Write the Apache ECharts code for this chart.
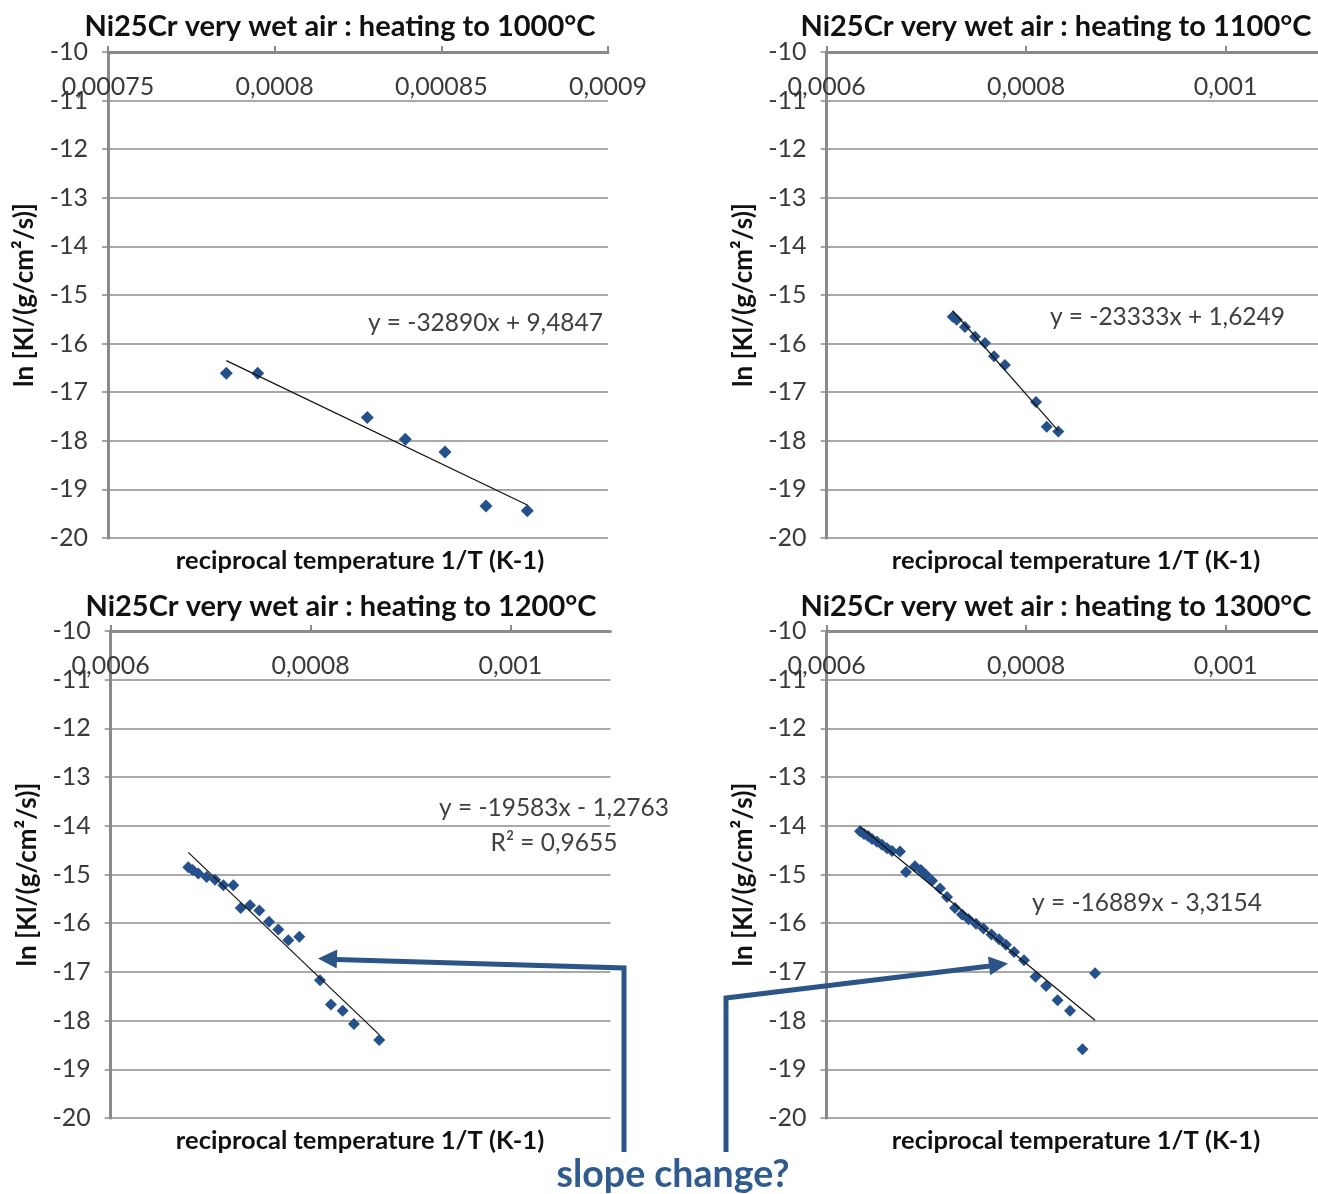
<!DOCTYPE html>
<html><head><meta charset="utf-8">
<script src="https://cdn.jsdelivr.net/npm/echarts@6/dist/echarts.min.js"></script>
<style>html,body{margin:0;padding:0;background:#fff}#c{width:1318px;height:1194px}</style>
</head><body><div id="c"></div>
<script>
// ---- data ----
const TITLES = ['Ni25Cr very wet air : heating to 1000°C','Ni25Cr very wet air : heating to 1100°C','Ni25Cr very wet air : heating to 1200°C','Ni25Cr very wet air : heating to 1300°C'];
const X_TITLE = 'reciprocal temperature 1/T (K-1)';
const Y_TITLE = 'ln [Kl/(g/cm²/s)]';
const Y_RANGE = [-20, -10];
const X_MIN = [0.00075, 0.0006, 0.0006, 0.0006];
const X_MAX = [0.0009, 0.0010926, 0.0011, 0.0010926];
const X_STEP = [0.00005, 0.0002, 0.0002, 0.0002];

const X1000 = [0.0007855, 0.0007949, 0.0008278, 0.0008392, 0.0008511, 0.0008634, 0.0008758];
const Y1000 = [-16.61, -16.61, -17.52, -17.97, -18.23, -19.34, -19.44];

const X1100 = [0.0007264, 0.0007304, 0.0007387, 0.0007488, 0.0007588, 0.0007678, 0.0007788, 0.0008099, 0.0008207, 0.0008323];
const Y1100 = [-15.45, -15.51, -15.66, -15.86, -15.99, -16.26, -16.44, -17.20, -17.71, -17.81];

const X1200 = [0.0006776, 0.0006820, 0.0006876, 0.0006960, 0.0007044, 0.0007127, 0.0007227, 0.0007301, 0.0007394, 0.0007487,
               0.0007584, 0.0007677, 0.0007777, 0.0007887, 0.0008094, 0.0008204, 0.0008321, 0.0008434, 0.0008687];
const Y1200 = [-14.85, -14.91, -14.98, -15.05, -15.11, -15.22, -15.22, -15.69, -15.63, -15.74,
               -15.97, -16.13, -16.35, -16.28, -17.17, -17.67, -17.80, -18.07, -18.40];

const X1300 = [0.0006335, 0.0006375, 0.0006415, 0.0006455, 0.0006505, 0.0006555, 0.0006606, 0.0006656, 0.0006736, 0.0006796,
               0.0006886, 0.0006946, 0.0006997, 0.0007057, 0.0007137, 0.0007207, 0.0007287, 0.0007357, 0.0007423, 0.0007498,
               0.0007573, 0.0007653, 0.0007728, 0.0007798, 0.0007879, 0.0007979, 0.0008094, 0.0008200, 0.0008315, 0.0008440,
               0.0008565, 0.0008691];
const Y1300 = [-14.11, -14.17, -14.21, -14.27, -14.33, -14.39, -14.46, -14.52, -14.53, -14.95,
               -14.83, -14.91, -15.01, -15.13, -15.29, -15.46, -15.69, -15.82, -15.92, -16.01,
               -16.11, -16.23, -16.33, -16.44, -16.59, -16.76, -17.10, -17.29, -17.58, -17.80,
               -18.59, -17.03];

// linear trend lines shown in the chart: y = slope * x + intercept
const FIT_SLOPE = [-32890, -23333, -19583, -16889];
const FIT_INTERCEPT = [9.4847, 1.6249, -1.2763, -3.3154];
const EQ_TEXT = ['y = -32890x + 9,4847', 'y = -23333x + 1,6249', 'y = -19583x - 1,2763', 'y = -16889x - 3,3154'];
const R2_TEXT = 'R² = 0,9655';
const NOTE = 'slope change?';

// ---- layout ----
const XS = [X1000, X1100, X1200, X1300];
const YS = [Y1000, Y1100, Y1200, Y1300];
const GRIDS = [
  {left: 108, top: 52, width: 500, height: 486},
  {left: 826.6, top: 52, width: 491.4, height: 486},
  {left: 110.7, top: 631, width: 499.7, height: 487},
  {left: 826.6, top: 631, width: 491.4, height: 487}
];
const FONT = 'Lato, "Open Sans", sans-serif';
const BLUE = '#24518c';
const ARROW = '#2b5487';
const AXIS_GRAY = '#8a8a8a';
const GRID_GRAY = '#a9a9a9';
const fmt = v => String(+(+v).toPrecision(6)).replace('.', ',');

const grid = [], xAxis = [], yAxis = [], series = [];
for (let i = 0; i < 4; i++) {
  grid.push(Object.assign({containLabel: false}, GRIDS[i]));
  xAxis.push({
    type: 'value', gridIndex: i, position: 'top', min: X_MIN[i], max: X_MAX[i], interval: X_STEP[i],
    axisLine: {show: true, onZero: false, lineStyle: {color: AXIS_GRAY, width: 3}},
    axisTick: {show: true, inside: false, length: 6, lineStyle: {color: AXIS_GRAY, width: 2}},
    axisLabel: {inside: true, margin: 22, color: '#3a3a3a', fontFamily: FONT, fontSize: 25, formatter: fmt, showMaxLabel: i === 0},
    splitLine: {show: false}
  });
  yAxis.push({
    type: 'value', gridIndex: i, min: Y_RANGE[0], max: Y_RANGE[1], interval: 1,
    axisLine: {show: true, onZero: false, lineStyle: {color: AXIS_GRAY, width: 3}},
    axisTick: {show: true, length: 6, lineStyle: {color: AXIS_GRAY, width: 1.5}},
    axisLabel: {margin: 20, color: '#3a3a3a', fontFamily: FONT, fontSize: 25},
    splitLine: {show: true, lineStyle: {color: GRID_GRAY, width: 2}},
    name: Y_TITLE, nameLocation: 'middle', nameRotate: 90, nameGap: 70,
    nameTextStyle: {fontFamily: FONT, fontWeight: 'bold', fontSize: 26, color: '#111'}
  });
  const pts = XS[i].map((x, k) => [x, YS[i][k]]);
  series.push({
    type: 'scatter', xAxisIndex: i, yAxisIndex: i, data: pts, symbol: 'diamond', symbolSize: i === 0 ? 13 : 12,
    itemStyle: {color: BLUE, opacity: 1}, z: 2
  });
  const xmin = Math.min(...XS[i]), xmax = Math.max(...XS[i]);
  series.push({
    type: 'line', xAxisIndex: i, yAxisIndex: i, showSymbol: false, symbol: 'none', silent: true,
    data: [[xmin, FIT_SLOPE[i] * xmin + FIT_INTERCEPT[i]], [xmax, FIT_SLOPE[i] * xmax + FIT_INTERCEPT[i]]],
    lineStyle: {color: '#111', width: 1.2}, z: 3
  });
}

function txt(x, y, text, font, color, align) {
  return {type: 'text', x: x, y: y, z: 10, silent: true,
    style: {text: text, font: font, fill: color, textAlign: align || 'center', textVerticalAlign: 'middle'}};
}
const TF = 'bold 29px ' + FONT;
const AF = 'bold 25.5px ' + FONT;
const EF = '24.5px ' + FONT;
const graphic = [
  txt(340, 27, TITLES[0], TF, '#111'),
  txt(1056, 27, TITLES[1], TF, '#111'),
  txt(341, 607, TITLES[2], TF, '#111'),
  txt(1056, 607, TITLES[3], TF, '#111'),
  txt(360, 561, X_TITLE, AF, '#111'),
  txt(1076, 561, X_TITLE, AF, '#111'),
  txt(360, 1141, X_TITLE, AF, '#111'),
  txt(1076, 1141, X_TITLE, AF, '#111'),
  txt(603, 323, EQ_TEXT[0], EF, '#404040', 'right'),
  txt(1285, 317, EQ_TEXT[1], EF, '#404040', 'right'),
  txt(554, 808, EQ_TEXT[2], EF, '#404040'),
  txt(554, 843, R2_TEXT, EF, '#404040'),
  txt(1262, 903, EQ_TEXT[3], EF, '#404040', 'right'),
  txt(673, 1175, NOTE, 'bold 37.5px ' + FONT, '#2f5b8f'),
  {type: 'polyline', z: 9, silent: true, shape: {points: [[624, 1152], [624, 968], [336, 959.5]]},
    style: {stroke: ARROW, lineWidth: 5, fill: null, lineJoin: 'miter'}},
  {type: 'polygon', z: 9, silent: true, shape: {points: [[318, 958.5], [337.3, 949.6], [336.7, 968.6]]},
    style: {fill: ARROW}},
  {type: 'polyline', z: 9, silent: true, shape: {points: [[726, 1152], [726, 998], [990, 966]]},
    style: {stroke: ARROW, lineWidth: 5, fill: null, lineJoin: 'miter'}},
  {type: 'polygon', z: 9, silent: true, shape: {points: [[1008, 963.5], [990.2, 975.2], [988.0, 956.4]]},
    style: {fill: ARROW}}
];

const chart = echarts.init(document.getElementById('c'), null, {renderer: 'canvas'});
chart.setOption({animation: false, backgroundColor: '#fff', grid, xAxis, yAxis, series, graphic});
</script>
</body></html>
